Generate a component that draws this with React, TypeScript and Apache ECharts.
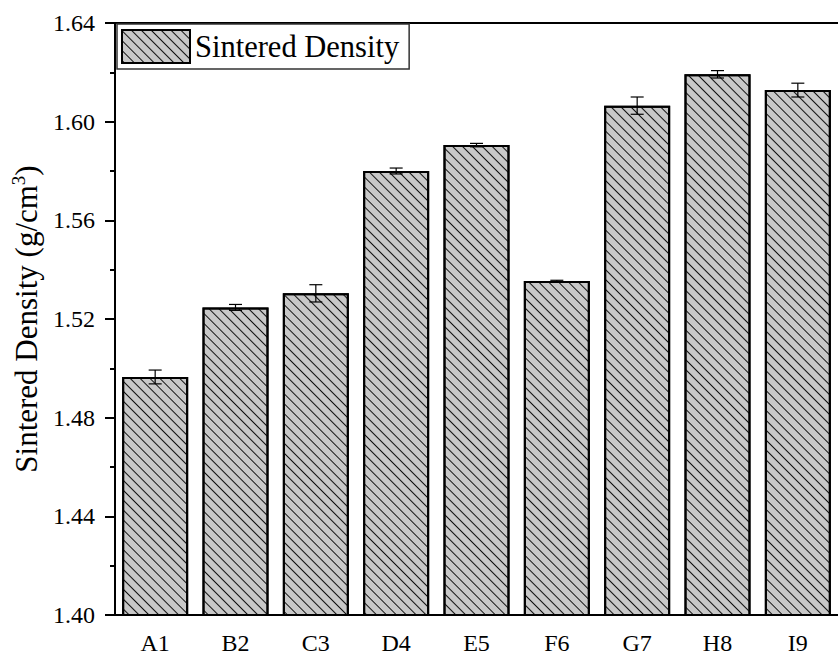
import React, { useEffect, useRef } from "react";
import * as echarts from "echarts";

const categories = ["A1", "B2", "C3", "D4", "E5", "F6", "G7", "H8", "I9"];
const densityValues = [1.4965, 1.5247, 1.5304, 1.5800, 1.5905, 1.5354, 1.6065, 1.6192, 1.6128];
const densityErrors = [0.0028, 0.0012, 0.0035, 0.0012, 0.0007, 0.0003, 0.0035, 0.0015, 0.0028];
const yTicks = { min: 1.4, max: 1.64, interval: 0.04 };

const FONT = "Liberation Serif";

export default function App() {
  const ref = useRef<HTMLDivElement>(null);
  useEffect(() => {
    if (!ref.current) return;
    const chart = echarts.init(ref.current, undefined, { renderer: "svg" });
    const errData = categories.map((c, i) => [i, densityValues[i], densityErrors[i]]);
    chart.setOption({
      animation: false,
      aria: { enabled: true, decal: { show: true } },
      textStyle: { fontFamily: FONT },
      grid: { left: 115, top: 23, width: 733.5, height: 592, containLabel: false },
      legend: {
        left: 117,
        top: 24,
        padding: [5, 10, 5, 4],
        borderColor: "#333",
        borderWidth: 1.5,
        itemWidth: 68,
        itemHeight: 33,
        icon: "rect",
        data: ["Sintered Density"],
        textStyle: { fontFamily: FONT, fontSize: 30.5, color: "#000" },
      },
      xAxis: [
        {
          type: "category",
          data: categories,
          axisLine: { lineStyle: { color: "#000", width: 2 } },
          axisTick: { alignWithLabel: true, length: 10, lineStyle: { color: "#000", width: 2 } },
          axisLabel: { color: "#000", fontSize: 24, fontFamily: FONT, margin: 16 },
        },
        {
          type: "category",
          position: "top",
          data: categories,
          axisLine: { lineStyle: { color: "#000", width: 2 } },
          axisTick: { show: false },
          axisLabel: { show: false },
        },
      ],
      yAxis: {
        type: "value",
        min: yTicks.min,
        max: yTicks.max,
        interval: yTicks.interval,
        name: "{a|Sintered Density (g/cm}{s|3}{a|)}",
        nameLocation: "middle",
        nameGap: 70,
        nameRotate: 90,
        nameTextStyle: {
          fontFamily: FONT,
          fontSize: 31,
          color: "#000",
          rich: {
            a: { fontFamily: FONT, fontSize: 31, color: "#000", lineHeight: 36 },
            s: { fontFamily: FONT, fontSize: 19, color: "#000", verticalAlign: "top", lineHeight: 36, padding: [0, 0, 14, 0] },
          },
        },
        axisLine: { show: true, lineStyle: { color: "#000", width: 2 } },
        axisTick: { show: true, length: 10, lineStyle: { color: "#000", width: 2 } },
        minorTick: { show: true, splitNumber: 2, length: 5, lineStyle: { color: "#000", width: 2 } },
        splitLine: { show: false },
        axisLabel: {
          color: "#000",
          fontSize: 24,
          fontFamily: FONT,
          margin: 20,
          formatter: (v: number) => v.toFixed(2),
        },
      },
      series: [
        {
          name: "Sintered Density",
          type: "bar",
          data: densityValues,
          barWidth: 66,
          itemStyle: {
            color: "#c8c8c8",
            borderColor: "#000",
            borderWidth: 2,
            decal: {
              symbol: "rect",
              symbolSize: 1,
              dashArrayX: [[1, 0]],
              dashArrayY: [1, 5.8],
              rotation: Math.PI / 4,
              color: "#111",
            },
          },
        },
        {
          type: "custom",
          name: "err",
          data: errData,
          z: 10,
          encode: { x: 0, y: 1 },
          renderItem: (params: any, api: any) => {
            const i = api.value(0);
            const v = api.value(1);
            const e = api.value(2);
            const top = api.coord([i, v + e]);
            const bot = api.coord([i, v - e]);
            const hw = 6.5;
            const st = { stroke: "#000", lineWidth: 1.2 };
            return {
              type: "group",
              children: [
                { type: "line", shape: { x1: top[0], y1: top[1], x2: bot[0], y2: bot[1] }, style: st },
                { type: "line", shape: { x1: top[0] - hw, y1: top[1], x2: top[0] + hw, y2: top[1] }, style: st },
                { type: "line", shape: { x1: bot[0] - hw, y1: bot[1], x2: bot[0] + hw, y2: bot[1] }, style: st },
              ],
            };
          },
        },
      ],
    });
    return () => chart.dispose();
  }, []);
  return (
    <div
      ref={ref}
      style={{ position: "fixed", left: 0, top: 0, width: 838, height: 655, background: "#fff" }}
    />
  );
}
